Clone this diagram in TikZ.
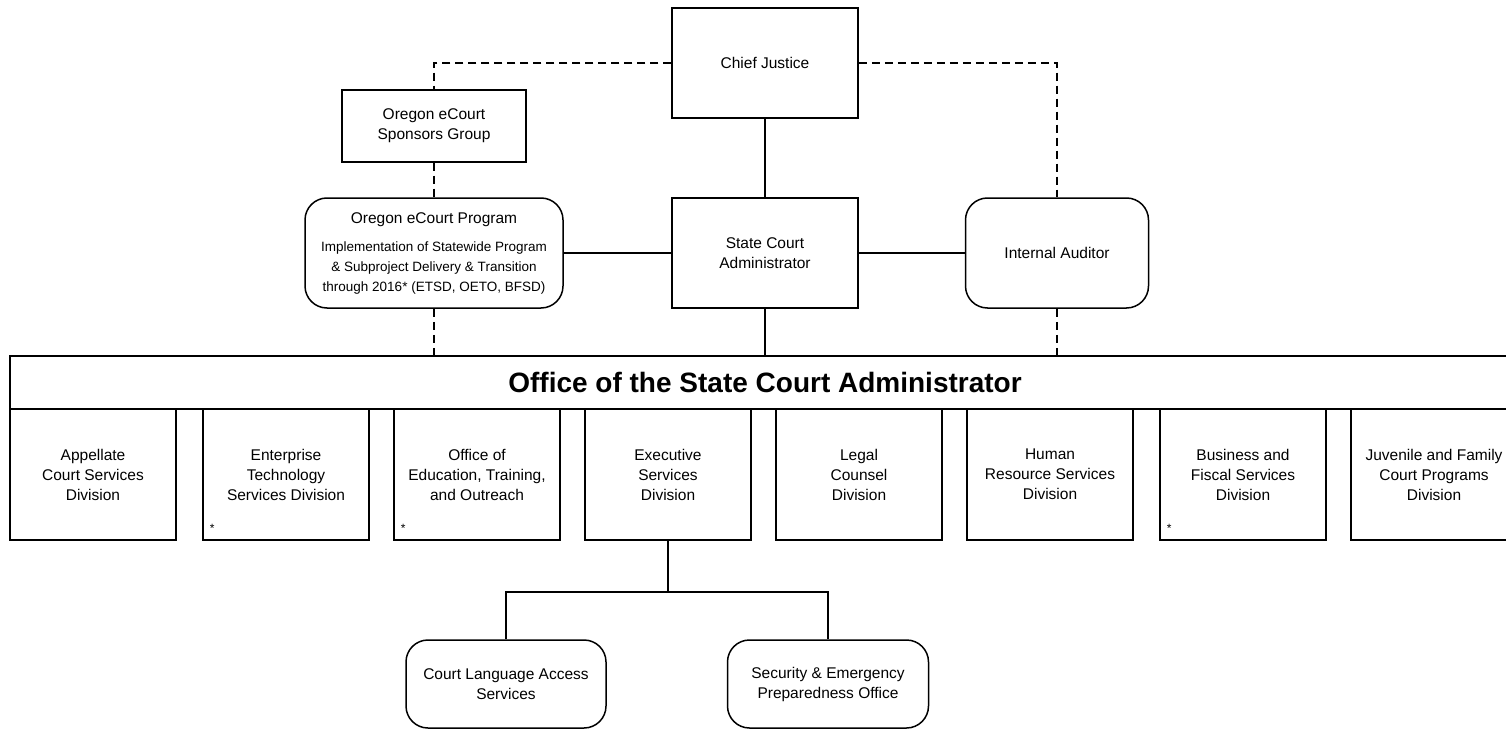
\documentclass[tikz,border=0pt]{standalone}
\usepackage{fontspec}
\setmainfont{Liberation Sans}
\newlength{\du}
\setlength{\du}{1pt}
\newcommand{\ecsmall}{\fontsize{13.5}{19}\selectfont}
\definecolor{dialinecolor}{rgb}{0.000000, 0.000000, 0.000000}
\definecolor{diafillcolor}{rgb}{1.000000, 1.000000, 1.000000}
\tikzset{
  diabox/.style={draw=dialinecolor, fill=diafillcolor, line width=1.5\du,
    minimum width=186\du, minimum height=110\du, inner sep=2\du,
    align=center, font=\fontsize{15.5}{20}\selectfont},
  diaround/.style={diabox, rounded corners=22\du},
  diadiv/.style={diabox, minimum width=166\du, minimum height=131\du},
  diastar/.style={inner sep=0pt, font=\fontsize{12}{12}\selectfont},
  dialink/.style={draw=dialinecolor, line width=1.5\du},
  diadash/.style={dialink, dash pattern=on 8\du off 5\du},
}
\begin{document}
\begin{tikzpicture}[yscale=-1]
\useasboundingbox[fill=diafillcolor] (0\du,0\du) rectangle (1506\du,730\du);
% top level
\node[diabox] (chief) at (765\du,63\du) {Chief Justice};
\node[diabox, minimum width=184\du, minimum height=72\du] (sponsors) at (434\du,126\du) {Oregon eCourt\\Sponsors Group};
\node[diaround, minimum width=258\du] (ecourt) at (434\du,253\du) {Oregon eCourt Program\\[8\du]\ecsmall Implementation of Statewide Program\\ \ecsmall\& Subproject Delivery \& Transition\\ \ecsmall through 2016* (ETSD, OETO, BFSD)};
\node[diabox] (sca) at (765\du,253\du) {State Court\\Administrator};
\node[diaround, minimum width=183\du] (auditor) at (1057\du,253\du) {Internal Auditor};
% office banner
\node[diabox, minimum width=1510\du, minimum height=53\du, font=\fontsize{28}{30}\selectfont\bfseries] (office) at (765\du,382.5\du) {Office of the State Court Administrator};
% divisions
\node[diadiv] (appellate) at (93\du,474.5\du) {Appellate\\Court Services\\Division};
\node[diadiv] (etsd) at (286\du,474.5\du) {Enterprise\\Technology\\Services Division};
\node[diadiv] (oeto) at (477\du,474.5\du) {Office of\\Education, Training,\\and Outreach};
\node[diadiv] (exec) at (668\du,474.5\du) {Executive\\Services\\Division};
\node[diadiv] (legal) at (859\du,474.5\du) {Legal\\Counsel\\Division};
\node[diadiv] (hrsd) at (1050\du,474.5\du) {Human\\Resource Services\\Division};
\node[diadiv] (bfsd) at (1243\du,474.5\du) {Business and\\Fiscal Services\\Division};
\node[diadiv] (jcpd) at (1434\du,474.5\du) {Juvenile and Family\\Court Programs\\Division};
\node[diastar] (etsdstar) at ([shift={(10\du,-12\du)}]etsd.south west) {*};
\node[diastar] (oetostar) at ([shift={(10\du,-12\du)}]oeto.south west) {*};
\node[diastar] (bfsdstar) at ([shift={(10\du,-12\du)}]bfsd.south west) {*};
% executive services offices
\node[diaround, minimum width=200\du, minimum height=88\du] (language) at (506\du,684\du) {Court Language Access\\Services};
\node[diaround, minimum width=201\du, minimum height=88\du] (security) at (828\du,684\du) {Security \& Emergency\\Preparedness Office};
\coordinate (execjoin) at (668\du,592\du);
% connectors
\draw[diadash] (chief.west) -| (sponsors.north);
\draw[diadash] (chief.east) -| (auditor.north);
\draw[diadash] (sponsors.south) -- (ecourt.north);
\draw[dialink] (chief.south) -- (sca.north);
\draw[dialink] (ecourt.east) -- (sca.west);
\draw[dialink] (sca.east) -- (auditor.west);
\draw[diadash] (ecourt.south) -- (ecourt.south |- office.north);
\draw[dialink] (sca.south) -- (office.north);
\draw[diadash] (auditor.south) -- (auditor.south |- office.north);
\draw[dialink] (exec.south) -- (execjoin);
\draw[dialink] (language.north) |- (execjoin) -| (security.north);
\end{tikzpicture}
\end{document}
